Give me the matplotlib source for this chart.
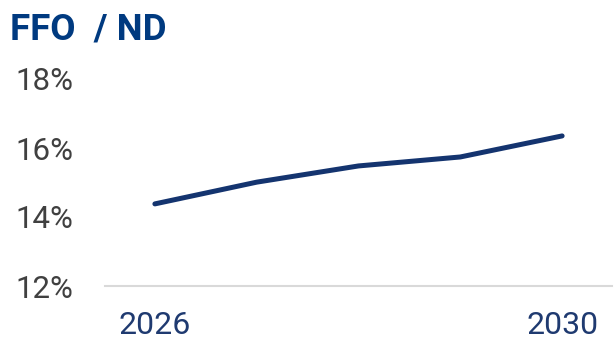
import matplotlib.pyplot as plt

years = ["2026", "2027", "2028", "2029", "2030"]
ffo_nd = [14.38, 15.01, 15.48, 15.74, 16.35]
yticks = [12, 14, 16, 18]
shown_years = {"2026", "2030"}

plt.rcParams['font.family'] = ['Roboto', 'DejaVu Sans']

fig = plt.figure(figsize=(6.16, 3.46), dpi=100)
ax = fig.add_axes([105 / 616, 1 - 286 / 346, 507 / 616, 207 / 346])

x = list(range(len(years)))
ax.plot(x, ffo_nd, color="#14346F", lw=3.6, solid_capstyle="round", solid_joinstyle="round")

ax.set_xlim(-0.49, len(years) - 1 + 0.49)
ax.set_ylim(12, 18)
ax.set_yticks(yticks)
ax.set_yticklabels([f"{v}%" for v in yticks])
ax.set_xticks(x)
ax.set_xticklabels([y if y in shown_years else "" for y in years])

for s in ["top", "right", "left"]:
    ax.spines[s].set_visible(False)
ax.spines["bottom"].set_color("#d9d9d9")
ax.spines["bottom"].set_linewidth(1.5)
ax.tick_params(axis="both", length=0)
ax.tick_params(axis="y", labelsize=22.5, labelcolor="#404040", pad=23)
ax.tick_params(axis="x", labelsize=23, labelcolor="#1F3A70", pad=18)

fig.text(10 / 616, 1 - 40 / 346, "FFO  / ND", fontsize=26.5, fontweight="bold",
         color="#003A80", ha="left", va="baseline")

fig.savefig("out.png", dpi=100)
